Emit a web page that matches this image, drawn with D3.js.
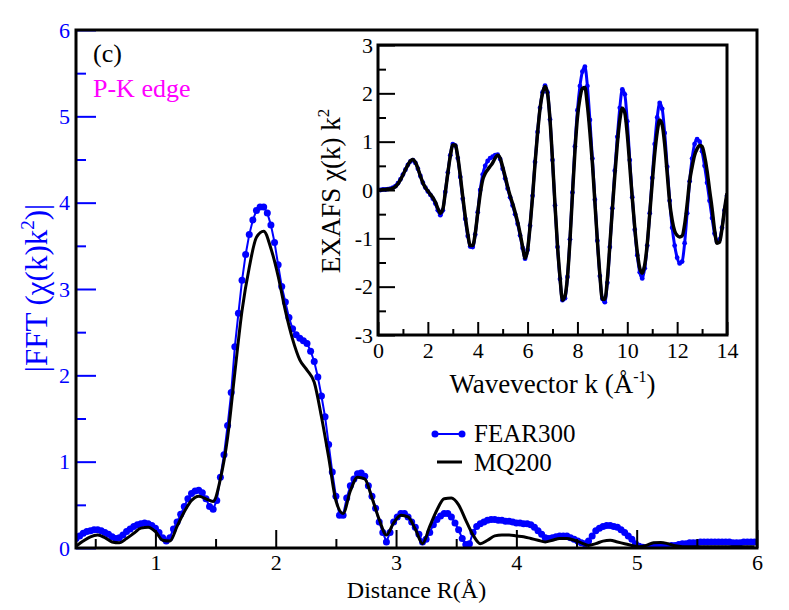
<!DOCTYPE html>
<html><head><meta charset="utf-8">
<script src="https://cdn.jsdelivr.net/npm/d3@7"></script>
<style>
body{margin:0;background:#fff}
svg text{font-family:"Liberation Serif","Times New Roman","DejaVu Serif",serif}
</style>
</head><body>
<svg id="c" width="789" height="610"></svg>
<script>
// ---------- data: main panel |FFT(chi(k)k^2)| vs R ----------
const rStart = 0.34, rStep = 0.03;            // FEAR300 sampling grid (R, Å)
const fear300R = [
 0.11,0.14,0.17,0.19,0.20,0.21,0.21,0.20,0.18,0.16,
 0.13,0.11,0.12,0.15,0.19,0.22,0.25,0.27,0.28,0.29,
 0.28,0.26,0.23,0.18,0.12,0.08,0.12,0.22,0.30,0.39,
 0.48,0.57,0.63,0.66,0.67,0.64,0.57,0.48,0.45,0.55,
 0.82,1.08,1.42,1.80,2.33,2.72,3.10,3.40,3.63,3.80,
 3.91,3.95,3.95,3.88,3.74,3.54,3.28,3.03,2.85,2.67,
 2.54,2.47,2.43,2.40,2.37,2.28,2.16,1.98,1.76,1.52,
 1.20,0.88,0.60,0.38,0.38,0.58,0.72,0.80,0.86,0.87,
 0.83,0.72,0.60,0.46,0.30,0.18,0.07,0.18,0.30,0.36,
 0.40,0.40,0.36,0.30,0.24,0.16,0.07,0.10,0.18,0.27,
 0.33,0.37,0.40,0.40,0.36,0.29,0.21,0.11,0.04,0.05,
 0.18,0.25,0.28,0.30,0.32,0.33,0.33,0.32,0.32,0.31,
 0.31,0.30,0.29,0.29,0.28,0.28,0.27,0.24,0.20,0.16,
 0.12,0.11,0.12,0.13,0.14,0.14,0.14,0.12,0.10,0.08,
 0.06,0.05,0.08,0.14,0.20,0.23,0.25,0.26,0.26,0.25,
 0.24,0.21,0.18,0.14,0.10,0.05,0.02,0.01,0.00,0.01,
 0.02,0.02,0.02,0.02,0.02,0.03,0.03,0.04,0.05,0.05,
 0.06,0.06,0.06,0.07,0.07,0.07,0.07,0.07,0.07,0.07,
 0.07,0.07,0.06,0.06,0.06,0.07,0.07,0.07,0.07
];
const mqStart = 0.34, mqStep = 0.06;          // MQ200 sampling grid (R, Å)
const mq200R = [
 0.02,0.08,0.13,0.15,0.12,0.07,0.06,0.11,0.17,0.23,
 0.24,0.19,0.09,0.08,0.25,0.42,0.55,0.60,0.57,0.54,
 0.80,1.28,2.03,2.75,3.25,3.60,3.67,3.47,3.15,2.75,
 2.42,2.18,2.06,1.92,1.52,1.05,0.55,0.40,0.66,0.82,
 0.80,0.58,0.33,0.15,0.29,0.38,0.36,0.22,0.05,0.25,
 0.44,0.57,0.58,0.50,0.32,0.15,0.05,0.09,0.14,0.15,
 0.15,0.14,0.13,0.11,0.09,0.07,0.09,0.11,0.11,0.09,
 0.06,0.03,0.05,0.08,0.09,0.07,0.05,0.03,0.015,0.03,
 0.06,0.065,0.05,0.025,0.015,0.015,0.015,0.015,0.015,0.015,
 0.015,0.015,0.015,0.015,0.015
];
// ---------- data: inset EXAFS chi(k)k^2 vs k ----------
const kStart = 0, kStep = 0.1;
const fear300K = [
 0.00,0.00,0.01,0.01,0.02,0.03,0.05,0.08,0.14,0.22,
 0.32,0.42,0.52,0.59,0.62,0.56,0.44,0.29,0.15,0.05,
 -0.03,-0.10,-0.18,-0.28,-0.42,-0.52,-0.42,-0.04,0.36,0.72,
 0.95,0.92,0.66,0.27,-0.18,-0.60,-0.95,-1.17,-1.18,-0.92,
 -0.46,0.00,0.32,0.50,0.60,0.66,0.69,0.72,0.73,0.64,
 0.44,0.24,0.03,-0.15,-0.32,-0.50,-0.70,-0.94,-1.20,-1.42,
 -1.24,-0.74,-0.12,0.58,1.20,1.70,2.02,2.16,2.02,1.46,
 0.62,-0.32,-1.18,-1.84,-2.28,-2.24,-1.80,-1.02,-0.05,0.90,
 1.65,2.15,2.45,2.55,2.15,1.45,0.65,-0.20,-1.05,-1.78,
 -2.25,-2.32,-1.92,-1.18,-0.38,0.40,1.10,1.70,2.08,1.98,
 1.42,0.62,-0.15,-0.82,-1.35,-1.70,-1.83,-1.62,-1.15,-0.48,
 0.25,0.95,1.50,1.80,1.68,1.18,0.48,-0.22,-0.78,-1.15,
 -1.40,-1.52,-1.48,-1.10,-0.48,0.18,0.65,0.95,1.05,1.00,
 0.80,0.50,0.15,-0.22,-0.58,-0.90,-1.07,-1.02,-0.78,-0.42,
 -0.12
];
const mq200K = [
 0.00,0.00,0.01,0.01,0.02,0.02,0.04,0.07,0.13,0.21,
 0.31,0.42,0.52,0.60,0.63,0.57,0.45,0.29,0.15,0.05,
 -0.02,-0.09,-0.16,-0.25,-0.38,-0.48,-0.40,-0.05,0.34,0.70,
 0.93,0.93,0.69,0.30,-0.14,-0.55,-0.90,-1.15,-1.15,-0.90,
 -0.48,-0.08,0.21,0.34,0.42,0.49,0.56,0.66,0.72,0.66,
 0.48,0.28,0.07,-0.12,-0.28,-0.46,-0.66,-0.90,-1.17,-1.41,
 -1.24,-0.75,-0.14,0.55,1.17,1.68,2.00,2.14,2.00,1.45,
 0.62,-0.30,-1.15,-1.80,-2.28,-2.20,-1.80,-1.05,-0.10,0.80,
 1.50,1.90,2.10,2.12,1.75,1.20,0.55,-0.25,-1.05,-1.75,
 -2.26,-2.26,-1.85,-1.15,-0.40,0.30,0.95,1.45,1.69,1.60,
 1.15,0.50,-0.17,-0.78,-1.28,-1.62,-1.72,-1.55,-1.12,-0.50,
 0.15,0.75,1.20,1.45,1.35,0.95,0.35,-0.25,-0.62,-0.85,
 -0.94,-0.97,-0.95,-0.72,-0.30,0.18,0.48,0.72,0.85,0.92,
 0.90,0.70,0.40,0.00,-0.38,-0.82,-1.10,-1.08,-0.80,-0.40,
 -0.07
];
// ---------- ticks ----------
const mainXTicks = [1,2,3,4,5,6];
const mainXMinor = [0.5,1.5,2.5,3.5,4.5,5.5];
const mainYTicks = [0,1,2,3,4,5,6];
const mainYMinor = [0.5,1.5,2.5,3.5,4.5,5.5];
const insetXTicks = [0,2,4,6,8,10,12,14];
const insetXMinor = [1,3,5,7,9,11,13];
const insetYTicks = [-3,-2,-1,0,1,2,3];
const insetYMinor = [-2.5,-1.5,-0.5,0.5,1.5,2.5];
const seriesNames = ["FEAR300","MQ200"];

const BLUE = "#0000ff", FONT = "Liberation Serif, Times New Roman, DejaVu Serif, serif";
const svg = d3.select("#c");
svg.append("rect").attr("width",789).attr("height",610).attr("fill","#fff");

// ---------- main panel ----------
const M = {l:76, r:757, t:30, b:548};
const x = d3.scaleLinear().domain([0.34,6]).range([M.l,M.r]);
const y = d3.scaleLinear().domain([0,6]).range([M.b,M.t]);
const defs = svg.append("defs");
defs.append("clipPath").attr("id","mclip").append("rect")
  .attr("x",M.l).attr("y",M.t).attr("width",M.r-M.l).attr("height",M.b-M.t);

const blueMain = fear300R.map((v,i)=>[rStart+i*rStep, v]);
const blackMain = mq200R.map((v,i)=>[mqStart+i*mqStep, v]);
const gm = svg.append("g").attr("clip-path","url(#mclip)");
gm.append("path").datum(blueMain)
  .attr("d", d3.line().x(d=>x(d[0])).y(d=>y(d[1])))
  .attr("fill","none").attr("stroke",BLUE).attr("stroke-width",2);
gm.append("g").selectAll("circle").data(blueMain).join("circle")
  .attr("cx",d=>x(d[0])).attr("cy",d=>y(d[1])).attr("r",3.5).attr("fill",BLUE);
gm.append("path").datum(blackMain)
  .attr("d", d3.line().curve(d3.curveMonotoneX).x(d=>x(d[0])).y(d=>y(d[1])))
  .attr("fill","none").attr("stroke","#000").attr("stroke-width",3).attr("stroke-linejoin","round");

function styleAxis(g, color, size){
  g.select(".domain").remove();
  g.attr("font-family",FONT).attr("font-size",size);
  g.selectAll("line").attr("stroke",color).attr("stroke-width",2);
  g.selectAll("text").attr("fill",color);
}
let a;
a = svg.append("g").attr("transform",`translate(0,${M.b})`)
  .call(d3.axisBottom(x).tickValues(mainXTicks).tickSize(-18).tickPadding(6).tickFormat(d=>String(d)));
styleAxis(a,"#000",22);
a = svg.append("g").attr("transform",`translate(0,${M.b})`)
  .call(d3.axisBottom(x).tickValues(mainXMinor).tickSize(-9).tickFormat(""));
styleAxis(a,"#000",22);
a = svg.append("g").attr("transform",`translate(${M.l},0)`)
  .call(d3.axisLeft(y).tickValues(mainYTicks).tickSize(-20).tickPadding(6).tickFormat(d=>String(d)));
styleAxis(a,BLUE,22);
a = svg.append("g").attr("transform",`translate(${M.l},0)`)
  .call(d3.axisLeft(y).tickValues(mainYMinor).tickSize(-10).tickFormat(""));
styleAxis(a,BLUE,22);

svg.append("rect").attr("x",M.l).attr("y",M.t).attr("width",M.r-M.l).attr("height",M.b-M.t)
  .attr("fill","none").attr("stroke","#000").attr("stroke-width",3);

// main labels
svg.append("text").attr("x",(M.l+M.r)/2).attr("y",598).attr("text-anchor","middle")
  .attr("font-size",24).attr("fill","#000").text("Distance R(Å)");
const yl = svg.append("text").attr("transform","translate(47,288) rotate(-90)")
  .attr("text-anchor","middle").attr("font-size",31).attr("fill",BLUE);
yl.append("tspan").text("|FFT (χ(k)k");
yl.append("tspan").attr("font-size",19).attr("dy",-13).text("2");
yl.append("tspan").attr("dy",13).text(")|");

svg.append("text").attr("x",93).attr("y",62).attr("font-size",26).attr("fill","#000").text("(c)");
svg.append("text").attr("x",93).attr("y",97).attr("font-size",26).attr("fill","#ff00ff").text("P-K edge");

// legend
const lg = svg.append("g");
lg.append("line").attr("x1",435).attr("x2",462).attr("y1",434).attr("y2",434)
  .attr("stroke",BLUE).attr("stroke-width",2);
lg.selectAll("circle").data([435,462]).join("circle")
  .attr("cx",d=>d).attr("cy",434).attr("r",3.5).attr("fill",BLUE);
lg.append("line").attr("x1",437).attr("x2",462).attr("y1",462).attr("y2",462)
  .attr("stroke","#000").attr("stroke-width",3);
lg.append("text").attr("x",474).attr("y",442).attr("font-size",25).text(seriesNames[0]);
lg.append("text").attr("x",474).attr("y",471).attr("font-size",25).text(seriesNames[1]);

// ---------- inset ----------
const I = {l:378, r:727, t:45, b:335};
const ix = d3.scaleLinear().domain([0,14]).range([I.l,I.r]);
const iy = d3.scaleLinear().domain([-3,3]).range([I.b,I.t]);
svg.append("rect").attr("x",I.l).attr("y",I.t).attr("width",I.r-I.l).attr("height",I.b-I.t).attr("fill","#fff");
defs.append("clipPath").attr("id","iclip").append("rect")
  .attr("x",I.l).attr("y",I.t).attr("width",I.r-I.l).attr("height",I.b-I.t);
const blueK = fear300K.map((v,i)=>[kStart+i*kStep, v]);
const blackK = mq200K.map((v,i)=>[kStart+i*kStep, v]);
const gi = svg.append("g").attr("clip-path","url(#iclip)");
gi.append("path").datum(blueK)
  .attr("d", d3.line().curve(d3.curveMonotoneX).x(d=>ix(d[0])).y(d=>iy(d[1])))
  .attr("fill","none").attr("stroke",BLUE).attr("stroke-width",3);
gi.append("g").selectAll("circle").data(blueK).join("circle")
  .attr("cx",d=>ix(d[0])).attr("cy",d=>iy(d[1])).attr("r",2.4).attr("fill",BLUE);
gi.append("path").datum(blackK)
  .attr("d", d3.line().curve(d3.curveMonotoneX).x(d=>ix(d[0])).y(d=>iy(d[1])))
  .attr("fill","none").attr("stroke","#000").attr("stroke-width",3.5).attr("stroke-linejoin","round");

a = svg.append("g").attr("transform",`translate(0,${I.b})`)
  .call(d3.axisBottom(ix).tickValues(insetXTicks).tickSize(-13).tickPadding(7).tickFormat(d=>String(d)));
styleAxis(a,"#000",22);
a = svg.append("g").attr("transform",`translate(0,${I.b})`)
  .call(d3.axisBottom(ix).tickValues(insetXMinor).tickSize(-6).tickFormat(""));
styleAxis(a,"#000",22);
a = svg.append("g").attr("transform",`translate(${I.l},0)`)
  .call(d3.axisLeft(iy).tickValues(insetYTicks).tickSize(-17).tickPadding(5).tickFormat(d=>String(d)));
styleAxis(a,"#000",22);
a = svg.append("g").attr("transform",`translate(${I.l},0)`)
  .call(d3.axisLeft(iy).tickValues(insetYMinor).tickSize(-8).tickFormat(""));
styleAxis(a,"#000",22);
svg.append("rect").attr("x",I.l).attr("y",I.t).attr("width",I.r-I.l).attr("height",I.b-I.t)
  .attr("fill","none").attr("stroke","#000").attr("stroke-width",3);

const ixl = svg.append("text").attr("x",(I.l+I.r)/2).attr("y",393).attr("text-anchor","middle")
  .attr("font-size",27).attr("fill","#000");
ixl.append("tspan").text("Wavevector k (Å");
ixl.append("tspan").attr("font-size",16).attr("dy",-11).text("-1");
ixl.append("tspan").attr("dy",11).text(")");
const iyl = svg.append("text").attr("transform","translate(340,191) rotate(-90)")
  .attr("text-anchor","middle").attr("font-size",27).attr("fill","#000");
iyl.append("tspan").text("EXAFS χ(k) k");
iyl.append("tspan").attr("font-size",17).attr("dy",-11).text("2");
</script>
</body></html>
